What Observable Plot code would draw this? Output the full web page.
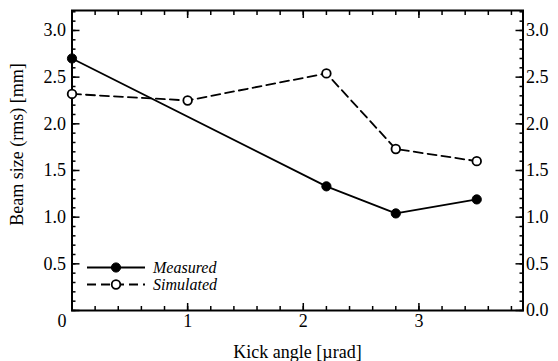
<!DOCTYPE html>
<html><head><meta charset="utf-8">
<script src="https://cdn.jsdelivr.net/npm/d3@7"></script>
<script src="https://cdn.jsdelivr.net/npm/@observablehq/plot@0.6"></script>
<style>
body{margin:0;background:#fff;}
#wrap{position:relative;width:558px;height:361px;font-family:"Liberation Serif","DejaVu Serif",serif;}
#wrap svg text{font-family:"Liberation Serif","DejaVu Serif",serif;}
.legend{position:absolute;left:86px;top:259px;font-style:italic;font-size:16px;color:#000;font-family:"Liberation Serif","DejaVu Serif",serif;}
.legend .row{display:flex;align-items:center;height:17px;line-height:17px;}
.legend svg{display:block;margin-right:7px;}
</style></head><body><div id="wrap"></div>
<script>
// Data
const measuredAngle = [0, 2.2, 2.8, 3.5];
const measuredSize  = [2.70, 1.33, 1.04, 1.19];
const simulatedAngle = [0, 1.0, 2.2, 2.8, 3.5];
const simulatedSize  = [2.32, 2.25, 2.54, 1.73, 1.60];
const seriesNames = ["Measured", "Simulated"];
const xTickLabels = [0, 1, 2, 3];
const yTickLabels = [0, 0.5, 1.0, 1.5, 2.0, 2.5, 3.0];
const xLabel = "Kick angle [\u00b5rad]";
const yLabel = "Beam size (rms) [mm]";

const measured = measuredAngle.map((x, i) => ({x, y: measuredSize[i]}));
const simulated = simulatedAngle.map((x, i) => ({x, y: simulatedSize[i]}));
const xMinor = d3.range(0, 3.85, 0.2);
const yMinor = d3.range(0, 3.25, 0.1);
const blank = () => "";
const fx = d3.format("d");
const fy = d3.format(".1f");

const chart = Plot.plot({
  width: 558, height: 361,
  marginLeft: 71.5, marginRight: 35.5, marginTop: 10, marginBottom: 51,
  style: {fontFamily: "Liberation Serif, DejaVu Serif, serif", fontSize: "18px", background: "white", color: "black", overflow: "visible"},
  x: {domain: [0, 3.9]},
  y: {domain: [0, 3.214]},
  marks: [
    Plot.axisX(xMinor, {anchor: "bottom", tickSize: -4, tickFormat: blank, label: null, strokeWidth: 1.5}),
    Plot.axisX(xMinor, {anchor: "top", tickSize: -4, tickFormat: blank, label: null, strokeWidth: 1.5}),
    Plot.axisX(xTickLabels, {anchor: "bottom", tickSize: -7, tickFormat: blank, label: null, strokeWidth: 1.5}),
    Plot.axisX(xTickLabels, {anchor: "top", tickSize: -7, tickFormat: blank, label: null, strokeWidth: 1.5}),
    Plot.axisY(yMinor, {anchor: "left", tickSize: -4, tickFormat: blank, label: null, strokeWidth: 1.5}),
    Plot.axisY(yMinor, {anchor: "right", tickSize: -4, tickFormat: blank, label: null, strokeWidth: 1.5}),
    Plot.axisY(yTickLabels, {anchor: "left", tickSize: -8, tickFormat: blank, label: null, strokeWidth: 1.5}),
    Plot.axisY(yTickLabels, {anchor: "right", tickSize: -8, tickFormat: blank, label: null, strokeWidth: 1.5}),
    Plot.axisX(xTickLabels.filter(d => d > 0), {anchor: "bottom", tickSize: 0, tickPadding: 4, tickFormat: fx, label: null}),
    Plot.text([xLabel], {text: d => d, frameAnchor: "bottom", textAnchor: "middle", lineAnchor: "bottom", dy: 47, fontSize: 18, fill: "black"}),
    Plot.axisX(xTickLabels.filter(d => d === 0), {anchor: "bottom", tickSize: 0, tickPadding: 4, tickFormat: fx, dx: -10, label: null}),
    Plot.axisY(yTickLabels.filter(d => d > 0), {anchor: "left", tickSize: 0, tickPadding: 6, tickFormat: fy, label: null}),
    Plot.text([yLabel], {text: d => d, frameAnchor: "left", rotate: -90, textAnchor: "middle", lineAnchor: "top", dx: -62, dy: -16, fontSize: 18, fill: "black"}),
    Plot.axisY(yTickLabels, {anchor: "right", tickSize: 0, tickPadding: 3, tickFormat: fy, label: null}),
    Plot.frame({stroke: "black", strokeWidth: 2}),
    Plot.line(simulated, {x: "x", y: "y", stroke: "black", strokeWidth: 1.8, strokeDasharray: "9,5"}),
    Plot.line(measured, {x: "x", y: "y", stroke: "black", strokeWidth: 1.8}),
    Plot.dot(simulated, {x: "x", y: "y", r: 4.3, fill: "white", stroke: "black", strokeWidth: 1.8}),
    Plot.dot(measured, {x: "x", y: "y", r: 4.6, fill: "black", stroke: "black", strokeWidth: 1})
  ]
});
const wrap = document.getElementById("wrap");
wrap.appendChild(chart);

// Legend
const legend = document.createElement("div");
legend.className = "legend";
seriesNames.forEach((name, i) => {
  const row = document.createElement("div");
  row.className = "row";
  const dashed = i === 1;
  row.innerHTML = `<svg width="60" height="15"><line x1="1" x2="59" y1="7.5" y2="7.5" stroke="black" stroke-width="1.8" ${dashed ? 'stroke-dasharray="9,5"' : ''}/>` +
    `<circle cx="30" cy="7.5" r="${dashed ? 4.3 : 4.6}" fill="${dashed ? 'white' : 'black'}" stroke="black" stroke-width="${dashed ? 1.8 : 1}"/></svg><span>${name}</span>`;
  legend.appendChild(row);
});
wrap.appendChild(legend);
</script>
</body></html>
